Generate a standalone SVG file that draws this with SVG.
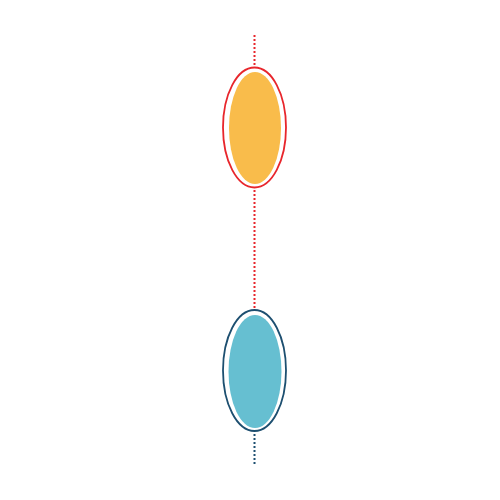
<svg xmlns="http://www.w3.org/2000/svg" width="500" height="500" viewBox="0 0 500 500">
<style>
.dot{stroke-width:2;stroke-dasharray:2 2;fill:none}
.ring{fill:#fff;stroke-width:1.8}
</style>
<rect width="500" height="500" fill="#fff"/>
<g id="connectors">
<line class="dot" x1="254.5" y1="35" x2="254.5" y2="65" stroke="#e8262c"/>
<line class="dot" x1="254.5" y1="190" x2="254.5" y2="308" stroke="#e8262c"/>
<line class="dot" x1="254.5" y1="434" x2="254.5" y2="464" stroke="#1d4f70"/>
</g>
<g id="node-top">
<ellipse class="ring" cx="254.5" cy="127.5" rx="31.5" ry="60" stroke="#e8262c"/>
<ellipse cx="255" cy="128" rx="26" ry="56" fill="#f9bc4b"/>
</g>
<g id="node-bottom">
<ellipse class="ring" cx="254.5" cy="370.5" rx="31.5" ry="60.5" stroke="#1d4f70"/>
<ellipse cx="255" cy="371.5" rx="26.5" ry="56.5" fill="#66bfd1"/>
</g>
</svg>
